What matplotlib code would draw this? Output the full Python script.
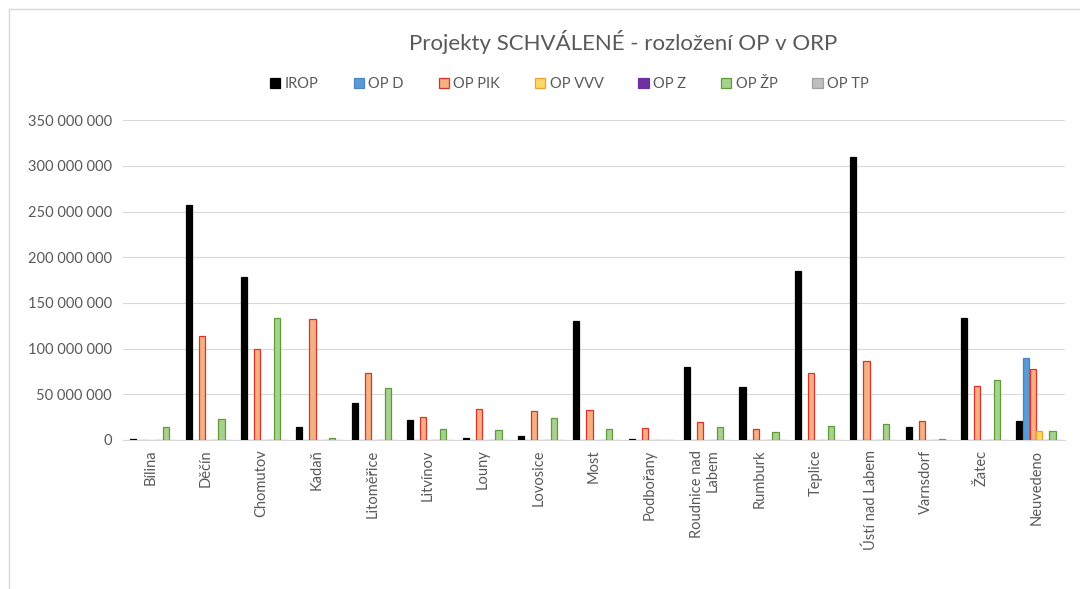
import numpy as np
import matplotlib.pyplot as plt
from matplotlib.ticker import FuncFormatter

plt.rcParams['font.family'] = ['Lato', 'DejaVu Sans']

# kategorie (ORP)
orp = ['Bílina', 'Děčín', 'Chomutov', 'Kadaň', 'Litoměřice', 'Litvínov', 'Louny',
       'Lovosice', 'Most', 'Podbořany', 'Roudnice nad\nLabem', 'Rumburk', 'Teplice',
       'Ústí nad Labem', 'Varnsdorf', 'Žatec', 'Neuvedeno']

# hodnoty v Kč
irop = [0.6e6, 257e6, 178.5e6, 14e6, 41e6, 21.5e6, 1.8e6, 4.7e6, 130e6, 0.8e6,
        79.5e6, 57.6e6, 185e6, 309.5e6, 14.6e6, 134e6, 20.4e6]
op_d = [0, 0, 0, 0, 0, 0, 0, 0, 0, 0, 0, 0, 0, 0, 0, 0, 89.3e6]
op_pik = [0, 113.8e6, 100e6, 132.5e6, 73.6e6, 25.5e6, 34e6, 31.7e6, 32.8e6, 13e6,
          19.3e6, 12e6, 73e6, 86e6, 20.4e6, 59.4e6, 77.7e6]
op_vvv = [0, 0, 0, 0, 0, 0, 0, 0, 0, 0, 0, 0, 0, 0, 0, 0, 9.5e6]
op_z = [0] * 17
op_zp = [14.5e6, 23e6, 134e6, 2.5e6, 57e6, 11.7e6, 10.6e6, 24e6, 12e6, 0,
         14.6e6, 8.8e6, 15.7e6, 17e6, 1e6, 65.6e6, 9.5e6]
op_tp = [0] * 17

series = [('IROP', irop, '#000000', '#000000'),
          ('OP D', op_d, '#5B9BD5', '#4A86C5'),
          ('OP PIK', op_pik, '#F4B183', '#E0302A'),
          ('OP VVV', op_vvv, '#FFD966', '#F0A030'),
          ('OP Z', op_z, '#7030A0', '#7030A0'),
          ('OP ŽP', op_zp, '#A9D18E', '#5E9B3A'),
          ('OP TP', op_tp, '#BFBFBF', '#A0A0A0')]

grey = '#595959'
fig = plt.figure(figsize=(10.8, 5.89), dpi=100)
ax = fig.add_axes([0.1139, 0.253, 0.872, 0.543])

x = np.arange(len(orp))
slot = 0.119
for j, (name, vals, fc, ec) in enumerate(series):
    ax.bar(x + (j - 3) * slot + 0.04, vals, width=slot * 0.92, color=fc, edgecolor=ec,
           linewidth=0.9, label=name, zorder=3)

ax.set_xlim(-0.5, len(orp) - 0.5)
ax.set_ylim(0, 350e6)
ax.set_yticks(np.arange(0, 350e6 + 1, 50e6))
ax.yaxis.set_major_formatter(FuncFormatter(lambda v, p: f'{int(v):,}'.replace(',', ' ')))
ax.grid(axis='y', color='#D9D9D9', linewidth=0.8, zorder=0)
for s in ['top', 'right', 'left']:
    ax.spines[s].set_visible(False)
ax.spines['bottom'].set_color('#D9D9D9')
ax.tick_params(axis='both', length=0, colors=grey, labelsize=10.5)
ax.tick_params(axis='y', pad=8)
ax.set_xticks(x)
ax.set_xticklabels(orp, rotation=90, ha='center', va='top', multialignment='right')
ax.tick_params(axis='x', pad=7)

fig.text(0.577, 0.928, 'Projekty SCHVÁLENÉ - rozložení OP v ORP', ha='center', va='center',
         fontsize=16, color=grey)
ax.legend(loc='center', bbox_to_anchor=(0.474, 1.1125), ncol=7, frameon=False,
          fontsize=10.5, labelcolor=grey, handlelength=0.7, handleheight=0.7,
          handletextpad=0.3, columnspacing=2.4)

# rámeček grafu
fig.add_artist(plt.Line2D([9 / 1080, 1], [1 - 9 / 589, 1 - 9 / 589], color='#D9D9D9', lw=1))
fig.add_artist(plt.Line2D([9 / 1080, 9 / 1080], [0, 1 - 9 / 589], color='#D9D9D9', lw=1))

plt.savefig('out.png', dpi=100)
